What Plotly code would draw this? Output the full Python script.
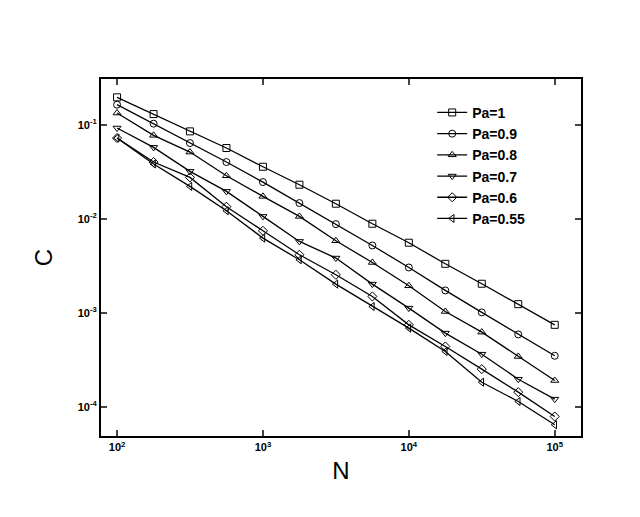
import plotly.graph_objects as go

N = [100, 178, 316, 562, 1000, 1778, 3162, 5623, 10000, 17783, 31623, 56234, 100000]
labels = ["Pa=1", "Pa=0.9", "Pa=0.8", "Pa=0.7", "Pa=0.6", "Pa=0.55"]
logC_pa1 = [-0.709,-0.887,-1.071,-1.248,-1.447,-1.638,-1.840,-2.053,-2.255,-2.479,-2.691,-2.908,-3.128]
logC_pa09 = [-0.787,-0.989,-1.195,-1.397,-1.610,-1.833,-2.057,-2.284,-2.518,-2.762,-2.996,-3.230,-3.457]
logC_pa08 = [-0.876,-1.113,-1.291,-1.543,-1.762,-1.975,-2.234,-2.465,-2.713,-2.986,-3.206,-3.465,-3.720]
logC_pa07 = [-1.035,-1.241,-1.496,-1.709,-1.975,-2.241,-2.418,-2.695,-2.950,-3.216,-3.440,-3.706,-3.918]
logC_pa06 = [-1.142,-1.397,-1.560,-1.872,-2.128,-2.383,-2.596,-2.826,-3.128,-3.358,-3.599,-3.844,-4.103]
logC_pa055 = [-1.142,-1.418,-1.656,-1.915,-2.206,-2.436,-2.695,-2.933,-3.163,-3.411,-3.738,-3.943,-4.191]
series = [logC_pa1, logC_pa09, logC_pa08, logC_pa07, logC_pa06, logC_pa055]
symbols = ["square-open", "circle-open", "triangle-up-open", "triangle-down-open", "diamond-open", "triangle-left-open"]

fig = go.Figure()
for lab, s, sym in zip(labels, series, symbols):
    fig.add_trace(go.Scatter(x=N, y=[10**v for v in s], mode="lines+markers", name="<b>" + lab + "</b>",
                             line=dict(color="black", width=1.3),
                             marker=dict(symbol=sym, size=7, color="black", line=dict(width=1))))

tickfont = dict(family="Arial, Liberation Sans", size=11, color="black")
fig.update_layout(
    width=640, height=517, plot_bgcolor="white", paper_bgcolor="white",
    margin=dict(l=93, r=67, t=71, b=89),
    showlegend=True,
    legend=dict(x=0.69, y=0.95, xanchor="left", yanchor="top", bgcolor="rgba(0,0,0,0)",
                font=dict(family="Arial, Liberation Sans", size=14, color="black"), tracegroupgap=0,
                itemwidth=30),
    xaxis=dict(type="log", range=[1.89, 5.18], tickvals=[100, 1000, 10000, 100000],
               ticktext=["<b>10<sup>2</sup></b>", "<b>10<sup>3</sup></b>", "<b>10<sup>4</sup></b>", "<b>10<sup>5</sup></b>"],
               ticks="inside", ticklen=6, tickwidth=2, mirror="allticks", showline=True, linecolor="black", linewidth=2,
               showgrid=False, tickfont=tickfont,
               title=dict(text="N", font=dict(family="Arial, Liberation Sans", size=24, color="black"), standoff=10)),
    yaxis=dict(type="log", range=[-4.31, -0.514], tickvals=[1e-4, 1e-3, 1e-2, 1e-1],
               ticktext=["<b>10<sup>-4</sup></b>", "<b>10<sup>-3</sup></b>", "<b>10<sup>-2</sup></b>", "<b>10<sup>-1</sup></b>"],
               ticks="inside", ticklen=6, tickwidth=2, mirror="allticks", showline=True, linecolor="black", linewidth=2,
               showgrid=False, tickfont=tickfont,
               title=dict(text="C", font=dict(family="Arial, Liberation Sans", size=24, color="black"), standoff=18)),
)
fig.write_html("out.html")
